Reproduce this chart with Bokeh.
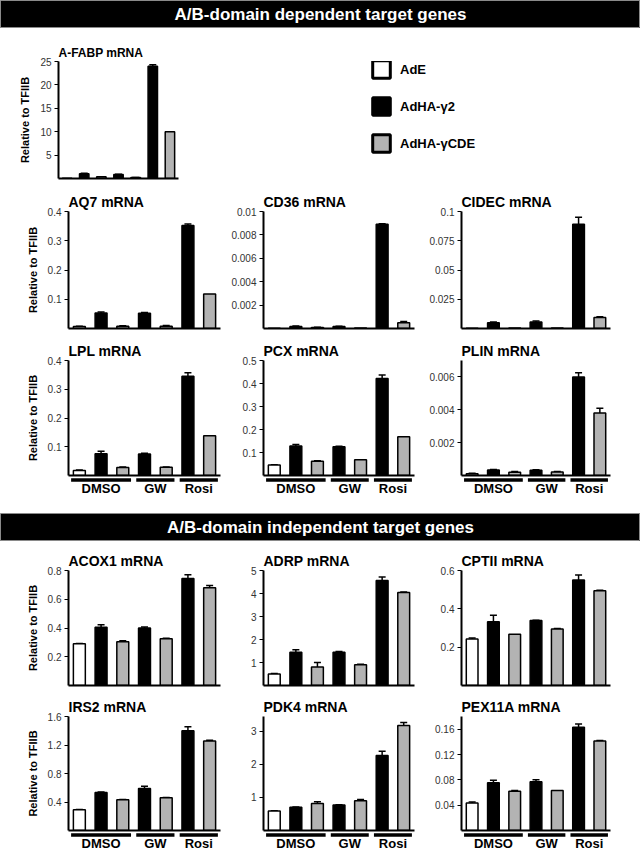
from bokeh.plotting import figure
from bokeh.layouts import column, row
from bokeh.models import (Range1d, FixedTicker, CustomJSTickFormatter, ColumnDataSource,
                          Whisker, TeeHead, Legend, LegendItem)
from bokeh.core.properties import value
from bokeh.embed import file_html
from bokeh.resources import INLINE

FONT = "Liberation Sans"
HEADER_FONT = "Liberation Sans"

# ---------------- data ----------------
headers = ["A/B-domain dependent target genes", "A/B-domain independent target genes"]
treatments = ["DMSO", "DMSO", "DMSO", "GW", "GW", "Rosi", "Rosi"]
vectors = ["AdE", "AdHA-γ2", "AdHA-γCDE", "AdHA-γ2", "AdHA-γCDE", "AdHA-γ2", "AdHA-γCDE"]
series_names = ["AdE", "AdHA-γ2", "AdHA-γCDE"]
series_colors = ["#ffffff", "#000000", "#b3b3b3"]
group_names = ["DMSO", "GW", "Rosi"]
y_label = "Relative to TFIIB"

afabp_vals = [0.05, 1.0, 0.35, 0.85, 0.2, 24.0, 10.0]
afabp_err = [0, 0.12, 0.05, 0.05, 0.02, 0.3, 0]
afabp_ticks = [5, 10, 15, 20, 25]
afabp_max = 25

aq7_vals = [0.007, 0.053, 0.008, 0.052, 0.008, 0.352, 0.118]
aq7_err = [0.001, 0.003, 0.001, 0.003, 0.002, 0.005, 0]
aq7_ticks = [0.1, 0.2, 0.3, 0.4]
aq7_max = 0.4

cd36_vals = [0.00003, 0.00018, 0.00008, 0.00018, 0.00004, 0.0089, 0.0005]
cd36_err = [0, 0.00003, 0.00002, 0.00002, 0, 0.00005, 0.0001]
cd36_ticks = [0.002, 0.004, 0.006, 0.008, 0.01]
cd36_max = 0.01

cidec_vals = [0.0003, 0.005, 0.0004, 0.0055, 0.0004, 0.089, 0.0095]
cidec_err = [0, 0.0005, 0, 0.001, 0, 0.006, 0.0005]
cidec_ticks = [0.025, 0.05, 0.075, 0.1]
cidec_max = 0.1

lpl_vals = [0.017, 0.076, 0.028, 0.075, 0.029, 0.345, 0.138]
lpl_err = [0.002, 0.008, 0.002, 0.002, 0.001, 0.012, 0]
lpl_ticks = [0.1, 0.2, 0.3, 0.4]
lpl_max = 0.4

pcx_vals = [0.046, 0.128, 0.062, 0.125, 0.068, 0.422, 0.168]
pcx_err = [0.001, 0.007, 0.002, 0.002, 0.001, 0.015, 0]
pcx_ticks = [0.1, 0.2, 0.3, 0.4, 0.5]
pcx_max = 0.5

plin_vals = [0.0001, 0.00034, 0.0002, 0.00032, 0.00022, 0.006, 0.0038]
plin_err = [0.00003, 0.00003, 0.00005, 0.00003, 0.00002, 0.00025, 0.0003]
plin_ticks = [0.002, 0.004, 0.006]
plin_max = 0.007

acox1_vals = [0.29, 0.405, 0.305, 0.4, 0.325, 0.745, 0.68]
acox1_err = [0.003, 0.018, 0.006, 0.007, 0.003, 0.025, 0.015]
acox1_ticks = [0.2, 0.4, 0.6, 0.8]
acox1_max = 0.8

adrp_vals = [0.5, 1.45, 0.8, 1.45, 0.9, 4.57, 4.04]
adrp_err = [0.02, 0.1, 0.2, 0.03, 0.02, 0.15, 0.02]
adrp_ticks = [1, 2, 3, 4, 5]
adrp_max = 5

cpt2_vals = [0.243, 0.332, 0.268, 0.339, 0.295, 0.55, 0.494]
cpt2_err = [0.005, 0.034, 0, 0.002, 0.003, 0.026, 0.003]
cpt2_ticks = [0.2, 0.4, 0.6]
cpt2_max = 0.6

irs2_vals = [0.29, 0.535, 0.43, 0.59, 0.46, 1.40, 1.255]
irs2_err = [0.003, 0.005, 0.005, 0.03, 0.003, 0.055, 0.012]
irs2_ticks = [0.4, 0.8, 1.2, 1.6]
irs2_max = 1.6

pdk4_vals = [0.59, 0.70, 0.82, 0.77, 0.90, 2.27, 3.18]
pdk4_err = [0.01, 0.01, 0.05, 0.01, 0.04, 0.13, 0.09]
pdk4_ticks = [1, 2, 3]
pdk4_max = 3.45

pex11a_vals = [0.0434, 0.0755, 0.062, 0.077, 0.063, 0.163, 0.1415]
pex11a_err = [0.0015, 0.004, 0.0012, 0.003, 0, 0.005, 0.0008]
pex11a_ticks = [0.04, 0.08, 0.12, 0.16]
pex11a_max = 0.18

# ---------------- layout constants ----------------
TOTAL_W = 640
COLS = [(224, 68, 4), (196, 39, 6), (220, 41, 30)]  # width, left border, right border


def panel(title, vals, errs, ticks, ymax, col, height, top, bottom,
          ylabel=None, title_size="14px", tick_size="10px"):
    width, left, right = col
    p = figure(width=width, height=height, title=title,
               x_range=Range1d(-0.5, len(vals) - 0.5), y_range=Range1d(0, ymax),
               output_backend="svg", toolbar_location=None,
               min_border_left=left, min_border_right=right,
               min_border_top=top, min_border_bottom=bottom)
    p.grid.visible = False
    p.outline_line_color = None
    p.background_fill_color = None
    p.border_fill_color = None
    p.title.text_font = FONT
    p.title.text_font_style = "bold"
    p.title.text_font_size = title_size
    p.title.text_color = "black"
    p.title.align = "left"
    p.title.standoff = 4

    xa = p.xaxis[0]
    xa.ticker = FixedTicker(ticks=[], minor_ticks=[])
    xa.major_label_text_font_size = "0px"
    xa.major_label_standoff = 0
    xa.major_tick_out = 0
    xa.major_tick_in = 0
    xa.minor_tick_out = 0
    xa.minor_tick_in = 0
    xa.axis_line_width = 2
    xa.axis_line_color = "black"

    ya = p.yaxis[0]
    ya.ticker = FixedTicker(ticks=ticks, minor_ticks=[])
    ya.formatter = CustomJSTickFormatter(code="return String(parseFloat(tick.toPrecision(6)));")
    ya.major_label_text_font = FONT
    ya.major_label_text_font_size = tick_size
    ya.major_label_text_color = "#333333"
    ya.major_label_standoff = 3
    ya.major_tick_out = 4
    ya.major_tick_in = 0
    ya.minor_tick_out = 0
    ya.minor_tick_in = 0
    ya.major_tick_line_width = 1
    ya.axis_line_width = 2
    ya.axis_line_color = "black"
    if ylabel:
        ya.axis_label = ylabel
        ya.axis_label_text_font = FONT
        ya.axis_label_text_font_style = "bold"
        ya.axis_label_text_font_size = "11px"
        ya.axis_label_text_color = "black"
        ya.axis_label_standoff = 6

    for s, color in zip(series_names, series_colors):
        idx = [i for i, v in enumerate(vectors) if v == s]
        src = ColumnDataSource(dict(x=idx, top=[vals[i] for i in idx]))
        p.vbar(x="x", top="top", width=0.55, source=src, fill_color=color,
               line_color="black", line_width=1.5)
        widx = [i for i in idx if errs[i] > 0]
        if widx:
            wsrc = ColumnDataSource(dict(x=widx, lower=[vals[i] for i in widx],
                                         upper=[vals[i] + errs[i] for i in widx]))
            p.add_layout(Whisker(base="x", lower="lower", upper="upper", source=wsrc,
                                 lower_head=None,
                                 upper_head=TeeHead(size=7, line_width=1.5, line_color="black"),
                                 line_width=1.5, line_color="black"))
    return p


def group_labels(p, col, height):
    width, left, right = col
    q = figure(width=width, height=height, x_range=p.x_range, y_range=Range1d(height, 0),
               output_backend="svg", toolbar_location=None,
               min_border_left=left, min_border_right=right, min_border_top=0, min_border_bottom=0,
               x_axis_location=None, y_axis_location=None)
    q.grid.visible = False
    q.outline_line_color = None
    q.background_fill_color = None
    q.border_fill_color = None
    idx = {g: [i for i, t in enumerate(treatments) if t == g] for g in group_names}
    x0 = [min(idx[g]) - 0.5 + 0.12 for g in group_names]
    x1 = [max(idx[g]) + 0.5 - 0.12 for g in group_names]
    xc = [(min(idx[g]) + max(idx[g])) / 2 for g in group_names]
    q.segment(x0=x0, x1=x1, y0=[2.5] * 3, y1=[2.5] * 3, line_width=3.5, line_color="black")
    q.text(x=xc, y=[11] * 3, text=group_names, text_font=value(FONT), text_font_style="bold",
           text_font_size="13px", text_align="center", text_baseline="middle", text_color="black")
    return q


def header(text, height):
    h = figure(width=TOTAL_W, height=height, x_range=Range1d(0, 1), y_range=Range1d(0, 1),
               output_backend="svg", toolbar_location=None,
               min_border_left=0, min_border_right=0, min_border_top=0, min_border_bottom=0,
               x_axis_location=None, y_axis_location=None)
    h.grid.visible = False
    h.background_fill_color = "black"
    h.border_fill_color = "black"
    h.outline_line_color = "#8a8a8a"
    h.outline_line_width = 1
    h.text(x=[0.5], y=[0.5], text=[text], text_font=value(HEADER_FONT), text_font_style="bold",
           text_font_size="17px", text_align="center", text_baseline="middle", text_color="white")
    return h


# ---------------- build ----------------
h1 = header(headers[0], 28)

ROW1_H = 160
afabp = panel("A-FABP mRNA", afabp_vals, afabp_err, afabp_ticks, afabp_max, (224, 58, 46),
              ROW1_H, 33, 10, ylabel=y_label, title_size="12px", tick_size="10px")

leg_fig = figure(width=TOTAL_W - 224, height=ROW1_H, x_range=Range1d(0, 1), y_range=Range1d(0, 1),
                 output_backend="svg", toolbar_location=None,
                 min_border_left=0, min_border_right=0, min_border_top=0, min_border_bottom=0,
                 x_axis_location=None, y_axis_location=None)
leg_fig.grid.visible = False
leg_fig.outline_line_color = None
leg_fig.background_fill_color = None
leg_fig.border_fill_color = None
items = []
for s, color in zip(series_names, series_colors):
    # hidden renderer: supplies the legend swatch only
    r = leg_fig.vbar(x=[0.5], top=[0.5], width=0.1, fill_color=color, line_color="black",
                     line_width=3, visible=False)
    items.append(LegendItem(label=s, renderers=[r]))
legend = Legend(items=items, location=(146, 24), orientation="vertical",
                glyph_width=22, glyph_height=22, label_height=22, spacing=15,
                padding=0, margin=0, border_line_color=None, background_fill_alpha=0,
                inactive_fill_alpha=0,
                label_text_font=FONT, label_text_font_style="bold", label_text_font_size="13px",
                label_text_color="black", label_standoff=8)
leg_fig.add_layout(legend)

R2_H, R2_T, R2_B = 150, 23, 10
aq7 = panel("AQ7 mRNA", aq7_vals, aq7_err, aq7_ticks, aq7_max, COLS[0], R2_H, R2_T, R2_B, ylabel=y_label)
cd36 = panel("CD36 mRNA", cd36_vals, cd36_err, cd36_ticks, cd36_max, COLS[1], R2_H, R2_T, R2_B)
cidec = panel("CIDEC mRNA", cidec_vals, cidec_err, cidec_ticks, cidec_max, COLS[2], R2_H, R2_T, R2_B)

R3_H, R3_T, R3_B = 139, 21, 2
lpl = panel("LPL mRNA", lpl_vals, lpl_err, lpl_ticks, lpl_max, COLS[0], R3_H, R3_T, R3_B, ylabel=y_label)
pcx = panel("PCX mRNA", pcx_vals, pcx_err, pcx_ticks, pcx_max, COLS[1], R3_H, R3_T, R3_B)
plin = panel("PLIN mRNA", plin_vals, plin_err, plin_ticks, plin_max, COLS[2], R3_H, R3_T, R3_B)
L3_H = 36
lab3 = [group_labels(p, c, L3_H) for p, c in zip([lpl, pcx, plin], COLS)]

h2 = header(headers[1], 28)

R4_H, R4_T, R4_B = 149, 29, 5
acox1 = panel("ACOX1 mRNA", acox1_vals, acox1_err, acox1_ticks, acox1_max, COLS[0], R4_H, R4_T, R4_B, ylabel=y_label)
adrp = panel("ADRP mRNA", adrp_vals, adrp_err, adrp_ticks, adrp_max, COLS[1], R4_H, R4_T, R4_B)
cpt2 = panel("CPTII mRNA", cpt2_vals, cpt2_err, cpt2_ticks, cpt2_max, COLS[2], R4_H, R4_T, R4_B)

R5_H, R5_T, R5_B = 142, 26, 2
irs2 = panel("IRS2 mRNA", irs2_vals, irs2_err, irs2_ticks, irs2_max, COLS[0], R5_H, R5_T, R5_B, ylabel=y_label)
pdk4 = panel("PDK4 mRNA", pdk4_vals, pdk4_err, pdk4_ticks, pdk4_max, COLS[1], R5_H, R5_T, R5_B)
pex11a = panel("PEX11A mRNA", pex11a_vals, pex11a_err, pex11a_ticks, pex11a_max, COLS[2], R5_H, R5_T, R5_B)
L5_H = 18
lab5 = [group_labels(p, c, L5_H) for p, c in zip([irs2, pdk4, pex11a], COLS)]

layout = column(
    h1,
    row(afabp, leg_fig, spacing=0),
    row(aq7, cd36, cidec, spacing=0),
    row(lpl, pcx, plin, spacing=0),
    row(*lab3, spacing=0),
    h2,
    row(acox1, adrp, cpt2, spacing=0),
    row(irs2, pdk4, pex11a, spacing=0),
    row(*lab5, spacing=0),
    spacing=0,
)

open("out.html", "w").write(file_html(layout, INLINE))
